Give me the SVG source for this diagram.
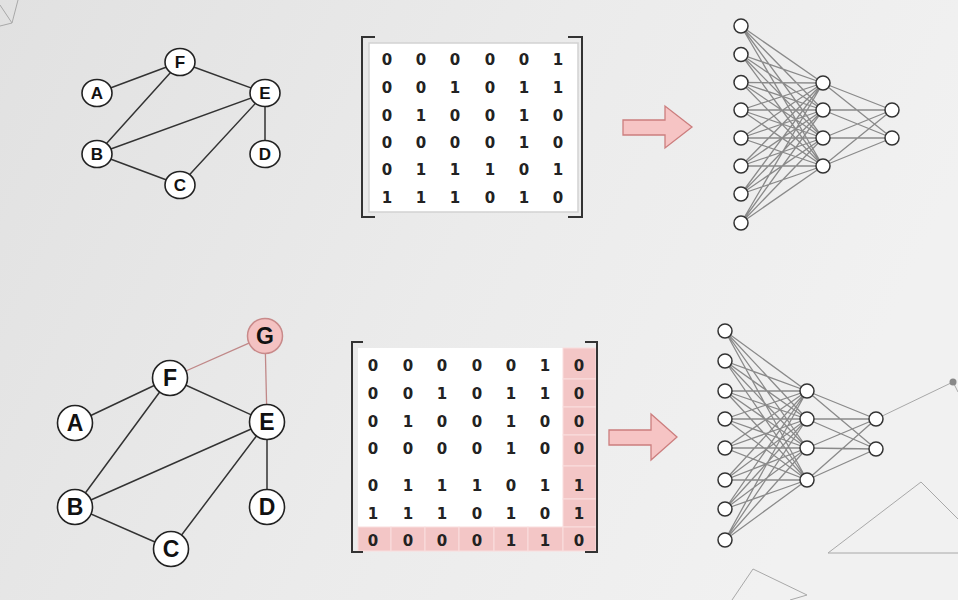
<svg xmlns="http://www.w3.org/2000/svg" width="958" height="600" viewBox="0 0 958 600">
<defs>
<linearGradient id="bg" x1="0" y1="0" x2="1" y2="0.3">
<stop offset="0" stop-color="#e1e1e1"/>
<stop offset="0.55" stop-color="#ebebeb"/>
<stop offset="1" stop-color="#f1f1f1"/>
</linearGradient>
<style>
.gn{fill:#fff;stroke:#222;stroke-width:1.6}
.gl{font-family:"Liberation Sans",Arial,sans-serif;font-weight:bold;fill:#111;text-anchor:middle}
.s{font-size:17px}
.b{font-size:23px}
.e{stroke:#333;stroke-width:1.5;fill:none}
.pe{stroke:#c08888;stroke-width:1.3;fill:none}
.nn{fill:#fff;stroke:#333;stroke-width:1.5}
.nl{stroke:#8a8a8a;stroke-width:1.3;fill:none}
.br{stroke:#333;stroke-width:2;fill:none}
.d{font-family:"DejaVu Sans",sans-serif;font-weight:bold;font-size:15px;fill:#222;text-anchor:middle}
.pk{fill:#f3c6c6;stroke:#f9dede;stroke-width:1}
.ar{fill:#f6c4c4;stroke:#cc7e7e;stroke-width:1.3}
.dec{stroke:#a8a8a8;stroke-width:1;fill:none}
</style>
</defs>
<rect width="958" height="600" fill="url(#bg)"/>

<g id="decorations">
<path class="dec" d="M0 5L12 23L18 0M0 26L12 23"/>
<path class="dec" d="M828 553L921 482L958 519M828 553H958"/>
<path class="dec" d="M732 600L753 569L807 595L790 600"/>
<path class="dec" d="M876 419L953 382L958 392"/>
<circle cx="953" cy="382" r="3.5" fill="#888"/>
</g>

<g id="connectors">
<!-- top graph -->
<path class="e" d="M97 93L180 62M180 62L265 93M180 62L97 154M97 154L265 93M265 93L180 185M265 93L265 154M97 154L180 185"/>
<!-- bottom graph -->
<path class="e" d="M75 423L170 378M170 378L267 422M170 378L75 507M75 507L267 422M267 422L171 549M267 422L267 507M75 507L171 549"/>
<path class="pe" d="M170 378L265 336M265 336L267 422"/>
<!-- top NN -->
<path class="nl" d="M741 26L823 83M741 26L823 110M741 26L823 138M741 26L823 166M741 54.5L823 83M741 54.5L823 110M741 54.5L823 138M741 54.5L823 166M741 82.5L823 83M741 82.5L823 110M741 82.5L823 138M741 82.5L823 166M741 110L823 83M741 110L823 110M741 110L823 138M741 110L823 166M741 138L823 83M741 138L823 110M741 138L823 138M741 138L823 166M741 166L823 83M741 166L823 110M741 166L823 138M741 166L823 166M741 194L823 83M741 194L823 110M741 194L823 138M741 194L823 166M741 223L823 83M741 223L823 110M741 223L823 138M741 223L823 166"/>
<path class="nl" d="M823 83L892 110M823 83L892 138M823 110L892 110M823 110L892 138M823 138L892 110M823 138L892 138M823 166L892 110M823 166L892 138"/>
<!-- bottom NN -->
<path class="nl" d="M725 331L807 391M725 331L807 419M725 331L807 448M725 331L807 480M725 361L807 391M725 361L807 419M725 361L807 448M725 361L807 480M725 391L807 391M725 391L807 419M725 391L807 448M725 391L807 480M725 419L807 391M725 419L807 419M725 419L807 448M725 419L807 480M725 448L807 391M725 448L807 419M725 448L807 448M725 448L807 480M725 480L807 391M725 480L807 419M725 480L807 448M725 480L807 480M725 509L807 391M725 509L807 419M725 509L807 448M725 509L807 480M725 540L807 391M725 540L807 419M725 540L807 448M725 540L807 480"/>
<path class="nl" d="M807 391L876 419M807 391L876 449M807 419L876 419M807 419L876 449M807 448L876 419M807 448L876 449M807 480L876 419M807 480L876 449"/>
</g>

<!-- top graph nodes -->
<g id="top-A"><ellipse class="gn" cx="97" cy="93" rx="15" ry="13.5"/><text class="gl s" x="97" y="99">A</text></g>
<g id="top-F"><ellipse class="gn" cx="180" cy="62" rx="15" ry="13.5"/><text class="gl s" x="180" y="68">F</text></g>
<g id="top-E"><ellipse class="gn" cx="265" cy="93" rx="15" ry="13.5"/><text class="gl s" x="265" y="99">E</text></g>
<g id="top-B"><ellipse class="gn" cx="97" cy="154" rx="15" ry="13.5"/><text class="gl s" x="97" y="160">B</text></g>
<g id="top-D"><ellipse class="gn" cx="265" cy="154" rx="15" ry="13.5"/><text class="gl s" x="265" y="160">D</text></g>
<g id="top-C"><ellipse class="gn" cx="180" cy="185" rx="15" ry="13.5"/><text class="gl s" x="180" y="191">C</text></g>

<!-- bottom graph nodes -->
<g id="bot-G"><circle cx="265" cy="336" r="17.5" fill="#f4c2c2" stroke="#c88a8a" stroke-width="1.5"/><text class="gl b" x="265" y="344">G</text></g>
<g id="bot-F"><circle class="gn" cx="170" cy="378" r="17.5"/><text class="gl b" x="170" y="386">F</text></g>
<g id="bot-A"><circle class="gn" cx="75" cy="423" r="17.5"/><text class="gl b" x="75" y="431">A</text></g>
<g id="bot-E"><circle class="gn" cx="267" cy="422" r="17.5"/><text class="gl b" x="267" y="430">E</text></g>
<g id="bot-B"><circle class="gn" cx="75" cy="507" r="17.5"/><text class="gl b" x="75" y="515">B</text></g>
<g id="bot-D"><circle class="gn" cx="267" cy="507" r="17.5"/><text class="gl b" x="267" y="515">D</text></g>
<g id="bot-C"><circle class="gn" cx="171" cy="549" r="17.5"/><text class="gl b" x="171" y="557">C</text></g>

<!-- top matrix -->
<g id="top-matrix">
<rect x="369" y="43" width="209" height="169" fill="#fff" stroke="#d2d2d2" stroke-width="1.5"/>
<path class="br" d="M375 37H362V217H375M568 37H582V217H568"/>
<g class="d">
<text x="387" y="65">0</text><text x="421" y="65">0</text><text x="455" y="65">0</text><text x="490" y="65">0</text><text x="524" y="65">0</text><text x="558" y="65">1</text>
<text x="387" y="93">0</text><text x="421" y="93">0</text><text x="455" y="93">1</text><text x="490" y="93">0</text><text x="524" y="93">1</text><text x="558" y="93">1</text>
<text x="387" y="121">0</text><text x="421" y="121">1</text><text x="455" y="121">0</text><text x="490" y="121">0</text><text x="524" y="121">1</text><text x="558" y="121">0</text>
<text x="387" y="148">0</text><text x="421" y="148">0</text><text x="455" y="148">0</text><text x="490" y="148">0</text><text x="524" y="148">1</text><text x="558" y="148">0</text>
<text x="387" y="175">0</text><text x="421" y="175">1</text><text x="455" y="175">1</text><text x="490" y="175">1</text><text x="524" y="175">0</text><text x="558" y="175">1</text>
<text x="387" y="203">1</text><text x="421" y="203">1</text><text x="455" y="203">1</text><text x="490" y="203">0</text><text x="524" y="203">1</text><text x="558" y="203">0</text>
</g>
</g>

<!-- bottom matrix -->
<g id="bottom-matrix">
<rect x="358" y="348" width="205" height="179" fill="#fff"/>
<rect class="pk" x="563" y="348" width="33" height="31"/>
<rect class="pk" x="563" y="379" width="33" height="28"/>
<rect class="pk" x="563" y="407" width="33" height="28"/>
<rect class="pk" x="563" y="435" width="33" height="31"/>
<rect class="pk" x="563" y="466" width="33" height="33"/>
<rect class="pk" x="563" y="499" width="33" height="28"/>
<rect class="pk" x="358" y="527" width="33" height="24"/>
<rect class="pk" x="391" y="527" width="34" height="24"/>
<rect class="pk" x="425" y="527" width="34" height="24"/>
<rect class="pk" x="459" y="527" width="35" height="24"/>
<rect class="pk" x="494" y="527" width="34" height="24"/>
<rect class="pk" x="528" y="527" width="35" height="24"/>
<rect class="pk" x="563" y="527" width="33" height="24"/>
<path class="br" d="M363 342H352V552H363M585 342H597V552H585"/>
<g class="d">
<text x="373" y="371">0</text><text x="408" y="371">0</text><text x="442" y="371">0</text><text x="477" y="371">0</text><text x="511" y="371">0</text><text x="545" y="371">1</text><text x="579" y="371">0</text>
<text x="373" y="399">0</text><text x="408" y="399">0</text><text x="442" y="399">1</text><text x="477" y="399">0</text><text x="511" y="399">1</text><text x="545" y="399">1</text><text x="579" y="399">0</text>
<text x="373" y="427">0</text><text x="408" y="427">1</text><text x="442" y="427">0</text><text x="477" y="427">0</text><text x="511" y="427">1</text><text x="545" y="427">0</text><text x="579" y="427">0</text>
<text x="373" y="454">0</text><text x="408" y="454">0</text><text x="442" y="454">0</text><text x="477" y="454">0</text><text x="511" y="454">1</text><text x="545" y="454">0</text><text x="579" y="454">0</text>
<text x="373" y="491">0</text><text x="408" y="491">1</text><text x="442" y="491">1</text><text x="477" y="491">1</text><text x="511" y="491">0</text><text x="545" y="491">1</text><text x="579" y="491">1</text>
<text x="373" y="519">1</text><text x="408" y="519">1</text><text x="442" y="519">1</text><text x="477" y="519">0</text><text x="511" y="519">1</text><text x="545" y="519">0</text><text x="579" y="519">1</text>
<text x="373" y="546">0</text><text x="408" y="546">0</text><text x="442" y="546">0</text><text x="477" y="546">0</text><text x="511" y="546">1</text><text x="545" y="546">1</text><text x="579" y="546">0</text>
</g>
</g>

<!-- arrows -->
<g id="arrow-top"><polygon class="ar" points="623,120 665,120 665,106 692,127 665,148 665,135 623,135"/></g>
<g id="arrow-bottom"><polygon class="ar" points="609,430 651,430 651,414 677,437 651,460 651,445 609,445"/></g>

<!-- top NN nodes -->
<g id="top-in1"><circle class="nn" cx="741" cy="26" r="7"/></g>
<g id="top-in2"><circle class="nn" cx="741" cy="54.5" r="7"/></g>
<g id="top-in3"><circle class="nn" cx="741" cy="82.5" r="7"/></g>
<g id="top-in4"><circle class="nn" cx="741" cy="110" r="7"/></g>
<g id="top-in5"><circle class="nn" cx="741" cy="138" r="7"/></g>
<g id="top-in6"><circle class="nn" cx="741" cy="166" r="7"/></g>
<g id="top-in7"><circle class="nn" cx="741" cy="194" r="7"/></g>
<g id="top-in8"><circle class="nn" cx="741" cy="223" r="7"/></g>
<g id="top-h1"><circle class="nn" cx="823" cy="83" r="7"/></g>
<g id="top-h2"><circle class="nn" cx="823" cy="110" r="7"/></g>
<g id="top-h3"><circle class="nn" cx="823" cy="138" r="7"/></g>
<g id="top-h4"><circle class="nn" cx="823" cy="166" r="7"/></g>
<g id="top-o1"><circle class="nn" cx="892" cy="110" r="7"/></g>
<g id="top-o2"><circle class="nn" cx="892" cy="138" r="7"/></g>

<!-- bottom NN nodes -->
<g id="bot-in1"><circle class="nn" cx="725" cy="331" r="7"/></g>
<g id="bot-in2"><circle class="nn" cx="725" cy="361" r="7"/></g>
<g id="bot-in3"><circle class="nn" cx="725" cy="391" r="7"/></g>
<g id="bot-in4"><circle class="nn" cx="725" cy="419" r="7"/></g>
<g id="bot-in5"><circle class="nn" cx="725" cy="448" r="7"/></g>
<g id="bot-in6"><circle class="nn" cx="725" cy="480" r="7"/></g>
<g id="bot-in7"><circle class="nn" cx="725" cy="509" r="7"/></g>
<g id="bot-in8"><circle class="nn" cx="725" cy="540" r="7"/></g>
<g id="bot-h1"><circle class="nn" cx="807" cy="391" r="7"/></g>
<g id="bot-h2"><circle class="nn" cx="807" cy="419" r="7"/></g>
<g id="bot-h3"><circle class="nn" cx="807" cy="448" r="7"/></g>
<g id="bot-h4"><circle class="nn" cx="807" cy="480" r="7"/></g>
<g id="bot-o1"><circle class="nn" cx="876" cy="419" r="7"/></g>
<g id="bot-o2"><circle class="nn" cx="876" cy="449" r="7"/></g>
</svg>
